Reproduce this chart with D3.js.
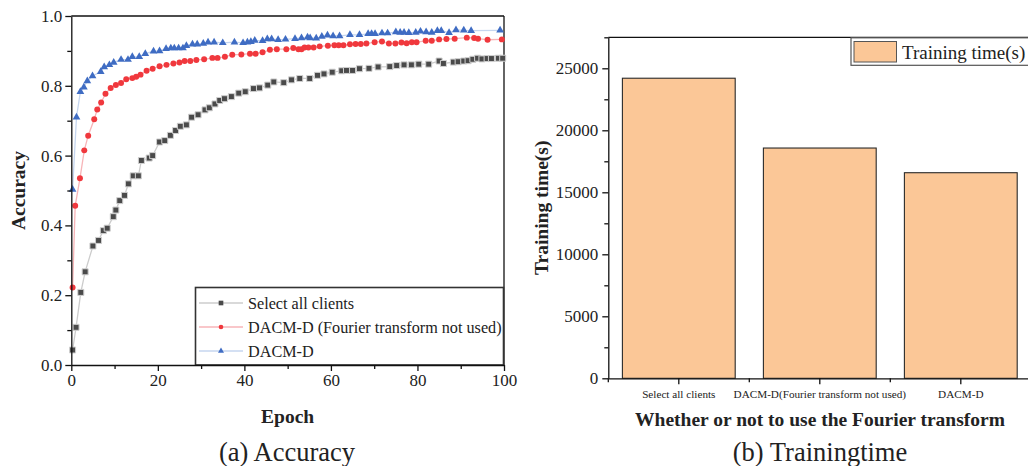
<!DOCTYPE html>
<html>
<head>
<meta charset="utf-8">
<script src="https://cdn.jsdelivr.net/npm/d3@7"></script>
<style>
  body { margin: 0; background: #fff; }
  svg text { font-family: "Liberation Serif", "DejaVu Serif", "Times New Roman", Times, serif !important; fill: #222; }
  .axis path, .axis line { stroke: #111; stroke-width: 1.3; }
</style>
</head>
<body>
<div id="chart"></div>
<script>
// ---- (a) accuracy data: [epoch, accuracy] ----
const selectAll = [
  [0.3,0.043],[1.1,0.108],[2.2,0.208],[3.2,0.267],[5.0,0.341],[6.3,0.357],[7.4,0.385],
  [8.3,0.392],[9.7,0.425],[10.3,0.444],[11.2,0.471],[12.3,0.486],[13.2,0.519],[14.3,0.542],
  [15.5,0.542],[16.2,0.586],[18.0,0.593],[18.8,0.600],[20.4,0.639],[21.6,0.643],[22.9,0.658],
  [24.1,0.672],[25.2,0.684],[26.6,0.688],[27.8,0.710],[29.3,0.717],[30.9,0.731],[31.9,0.737],
  [33.2,0.748],[34.3,0.758],[35.4,0.763],[37.0,0.769],[38.7,0.779],[40.2,0.783],[42.1,0.792],
  [43.5,0.794],[45.4,0.802],[46.8,0.811],[49.1,0.809],[50.9,0.817],[52.8,0.821],[55.1,0.821],
  [56.9,0.830],[58.4,0.834],[60.3,0.839],[62.5,0.843],[63.6,0.844],[65.0,0.844],[66.6,0.849],
  [68.8,0.850],[70.9,0.854],[73.6,0.855],[75.2,0.858],[76.9,0.860],[78.6,0.860],[80.3,0.862],
  [82.6,0.862],[85.0,0.871],[86.0,0.864],[88.3,0.868],[89.4,0.869],[90.7,0.871],[91.7,0.872],
  [92.8,0.876],[93.9,0.879],[94.9,0.877],[96.1,0.878],[97.1,0.878],[98.7,0.879],[99.7,0.879]
];
const noFourier = [
  [0.3,0.222],[0.9,0.456],[2.0,0.535],[3.0,0.615],[3.9,0.657],[5.3,0.704],[6.0,0.732],
  [6.9,0.752],[7.9,0.777],[9.1,0.794],[10.3,0.802],[11.5,0.808],[12.7,0.819],[14.1,0.822],
  [15.0,0.826],[16.0,0.832],[17.4,0.843],[18.8,0.849],[20.4,0.856],[22.0,0.860],[23.6,0.864],
  [25.0,0.867],[26.2,0.871],[27.5,0.871],[28.9,0.874],[30.7,0.876],[32.6,0.880],[33.8,0.880],
  [35.5,0.883],[37.2,0.889],[39.3,0.890],[41.3,0.892],[42.6,0.892],[44.2,0.896],[45.9,0.903],
  [47.5,0.905],[49.7,0.905],[51.3,0.908],[52.5,0.905],[53.2,0.905],[53.9,0.910],[54.8,0.910],
  [56.0,0.910],[57.4,0.913],[59.3,0.915],[60.8,0.916],[61.8,0.916],[62.9,0.916],[64.4,0.919],
  [65.7,0.920],[66.9,0.920],[68.2,0.921],[70.1,0.925],[71.8,0.927],[73.4,0.921],[74.9,0.921],
  [76.3,0.924],[77.5,0.922],[78.7,0.925],[79.8,0.925],[81.9,0.929],[83.3,0.929],[85.0,0.933],
  [86.7,0.934],[88.6,0.935],[91.4,0.938],[93.1,0.937],[94.0,0.935],[96.2,0.932],[99.5,0.933]
];
const dacmD = [
  [0.3,0.503],[1.2,0.710],[2.1,0.783],[2.9,0.796],[3.7,0.814],[4.9,0.828],[6.8,0.840],
  [7.6,0.854],[8.8,0.860],[9.8,0.867],[11.5,0.875],[13.1,0.875],[14.1,0.883],[15.7,0.883],
  [17.1,0.892],[19.0,0.899],[20.4,0.900],[21.9,0.906],[23.0,0.908],[23.8,0.908],[24.8,0.908],
  [25.8,0.908],[26.6,0.915],[28.0,0.919],[29.1,0.919],[30.5,0.921],[31.6,0.925],[33.0,0.925],
  [35.0,0.923],[37.7,0.925],[39.7,0.923],[40.7,0.925],[41.5,0.926],[42.4,0.930],[44.2,0.929],
  [45.3,0.934],[46.3,0.934],[47.8,0.932],[49.5,0.933],[51.7,0.935],[53.2,0.937],[54.6,0.939],
  [55.2,0.937],[56.6,0.936],[57.9,0.941],[59.2,0.945],[60.5,0.943],[62.0,0.943],[64.4,0.946],
  [66.6,0.946],[68.6,0.949],[69.4,0.949],[70.2,0.949],[71.8,0.951],[73.1,0.951],[75.0,0.954],
  [76.0,0.953],[76.9,0.953],[78.0,0.952],[79.6,0.953],[80.7,0.956],[82.0,0.954],[83.3,0.953],
  [84.6,0.958],[85.5,0.958],[87.3,0.952],[88.9,0.960],[90.7,0.959],[92.4,0.958],[99.1,0.959]
];
const seriesNames = ["Select all clients", "DACM-D (Fourier transform not used)", "DACM-D"];

// ---- (b) training time data ----
const methods = ["Select all clients", "DACM-D(Fourier transform not used)", "DACM-D"];
const trainTimes = [24200, 18570, 16580];

const width = 1028;
const height = 466;
const serif = '"Liberation Serif", "DejaVu Serif", "Times New Roman", Times, serif';

const svg = d3.select("#chart").append("svg")
  .attr("width", width).attr("height", height)
  .style("font-family", serif);

// ================= (a) Accuracy =================
const x = d3.scaleLinear().domain([0, 100]).range([71.3, 504]);
const y = d3.scaleLinear().domain([0, 1]).range([365, 16]);

const ga = svg.append("g");

// frame top + right
ga.append("line").attr("x1", x(0)).attr("x2", x(100)).attr("y1", y(1)).attr("y2", y(1))
  .attr("stroke", "#111").attr("stroke-width", 1.3);
ga.append("line").attr("x1", x(100)).attr("x2", x(100)).attr("y1", y(1)).attr("y2", y(0))
  .attr("stroke", "#111").attr("stroke-width", 1.3);

const styles = [
  { data: selectAll, line: "#cccccc", fill: "#4a4a4a", shape: d3.symbolSquare, size: 36 },
  { data: noFourier, line: "#f7b5b8", fill: "#f0383d", shape: d3.symbolCircle, size: 28 },
  { data: dacmD, line: "#c6d6ef", fill: "#3f6cc3", shape: d3.symbolTriangle, size: 26 }
];

const line = d3.line().x((d) => x(d[0])).y((d) => y(d[1]));

styles.forEach((s) => {
  ga.append("path").datum(s.data)
    .attr("fill", "none").attr("stroke", s.line).attr("stroke-width", 1.3)
    .attr("d", line);
  ga.selectAll(null).data(s.data).enter().append("path")
    .attr("transform", (d) => `translate(${x(d[0])},${y(d[1])})`)
    .attr("d", d3.symbol().type(s.shape).size(s.size)())
    .attr("fill", s.fill)
    .attr("stroke", s.shape === d3.symbolSquare ? "#d0d0d0" : "none")
    .attr("stroke-width", 1);
});

// legend
const lg = ga.append("g");
lg.append("rect").attr("x", 195.5).attr("y", 287.5).attr("width", 308).attr("height", 77.5)
  .attr("fill", "#fff").attr("stroke", "#333").attr("stroke-width", 1.6);
styles.forEach((s, i) => {
  const ly = 303 + i * 24;
  lg.append("line").attr("x1", 199).attr("x2", 243).attr("y1", ly).attr("y2", ly)
    .attr("stroke", s.line).attr("stroke-width", 1.3);
  lg.append("path").attr("transform", `translate(221,${ly})`)
    .attr("d", d3.symbol().type(s.shape).size(s.size * 0.6)())
    .attr("fill", s.fill);
  lg.append("text").attr("x", 248).attr("y", ly).attr("dy", "0.35em")
    .style("font-size", "16.2px").text(seriesNames[i]);
});

// axes
const xAxis = ga.append("g").attr("class", "axis")
  .attr("transform", `translate(0,${y(0)})`)
  .call(d3.axisBottom(x).tickValues(d3.range(0, 101, 20)).tickSize(6).tickSizeOuter(0).tickPadding(3));
ga.append("g").attr("class", "axis")
  .attr("transform", `translate(0,${y(0)})`)
  .call(d3.axisBottom(x).tickValues(d3.range(10, 100, 20)).tickSize(4).tickFormat(""))
  .select(".domain").remove();
xAxis.selectAll("text").style("font-size", "17px").attr("fill", "#222");

const yAxis = ga.append("g").attr("class", "axis")
  .attr("transform", `translate(${x(0)},0)`)
  .call(d3.axisLeft(y).tickValues(d3.range(0, 1.01, 0.2)).tickSize(6).tickSizeOuter(0)
    .tickPadding(3).tickFormat(d3.format(".1f")));
ga.append("g").attr("class", "axis")
  .attr("transform", `translate(${x(0)},0)`)
  .call(d3.axisLeft(y).tickValues(d3.range(0.1, 1, 0.2)).tickSize(4).tickFormat(""))
  .select(".domain").remove();
yAxis.selectAll("text").style("font-size", "17px").attr("fill", "#222");

svg.append("text")
  .attr("transform", `translate(25,${(y(0) + y(1)) / 2}) rotate(-90)`)
  .attr("text-anchor", "middle").style("font-size", "19.5px").style("font-weight", "bold")
  .text("Accuracy");
svg.append("text").attr("x", (x(0) + x(100)) / 2).attr("y", 423)
  .attr("text-anchor", "middle").style("font-size", "19.5px").style("font-weight", "bold")
  .text("Epoch");
svg.append("text").attr("x", 287).attr("y", 461)
  .attr("text-anchor", "middle").style("font-size", "26.5px")
  .text("(a) Accuracy");

// ================= (b) Training time =================
const xb = d3.scaleBand().domain(methods).range([608.3, 1031.3]).paddingInner(0.2).paddingOuter(0.1);
const yb = d3.scaleLinear().domain([0, 27500]).range([378.3, 37.3]);

const gb = svg.append("g");

gb.append("line").attr("x1", 608.3).attr("x2", 1031.3).attr("y1", yb(27500)).attr("y2", yb(27500))
  .attr("stroke", "#111").attr("stroke-width", 1.3);

gb.selectAll("rect.bar").data(methods).enter().append("rect")
  .attr("class", "bar")
  .attr("x", (d) => xb(d))
  .attr("y", (d, i) => yb(trainTimes[i]))
  .attr("width", xb.bandwidth())
  .attr("height", (d, i) => yb(0) - yb(trainTimes[i]))
  .attr("fill", "#fbc797").attr("stroke", "#2a2a2a").attr("stroke-width", 1.1);

// legend
gb.append("rect").attr("x", 851).attr("y", 37.8).attr("width", 200).attr("height", 27.5)
  .attr("fill", "#fff").attr("stroke", "#555").attr("stroke-width", 1.2);
gb.append("rect").attr("x", 854).attr("y", 41.5).attr("width", 42.5).attr("height", 20.5)
  .attr("fill", "#fbc797").attr("stroke", "#555").attr("stroke-width", 1);
gb.append("text").attr("x", 902).attr("y", 52).attr("dy", "0.35em")
  .style("font-size", "19px").text("Training time(s)");

const xbAxis = gb.append("g").attr("class", "axis")
  .attr("transform", `translate(0,${yb(0)})`)
  .call(d3.axisBottom(xb).tickSize(6).tickSizeOuter(0).tickPadding(6));
xbAxis.selectAll("text").style("font-size", "11.2px").attr("fill", "#333");
// minor ticks at the band edges
gb.selectAll("line.minor").data(methods).enter().append("line")
  .attr("class", "minor")
  .attr("x1", (d) => xb(d) - xb.step() * xb.paddingInner() / 2)
  .attr("x2", (d) => xb(d) - xb.step() * xb.paddingInner() / 2)
  .attr("y1", yb(0)).attr("y2", yb(0) + 4)
  .attr("stroke", "#111").attr("stroke-width", 1.3);

const ybAxis = gb.append("g").attr("class", "axis")
  .attr("transform", "translate(608.3,0)")
  .call(d3.axisLeft(yb).tickValues(d3.range(0, 25001, 5000)).tickSize(6).tickSizeOuter(0)
    .tickPadding(4).tickFormat(d3.format("d")));
gb.append("g").attr("class", "axis")
  .attr("transform", "translate(608.3,0)")
  .call(d3.axisLeft(yb).tickValues(d3.range(2500, 27501, 5000)).tickSize(4).tickFormat(""))
  .select(".domain").remove();
ybAxis.selectAll("text").style("font-size", "17px").attr("fill", "#222");

svg.append("text")
  .attr("transform", `translate(548,${(yb(0) + yb(27500)) / 2}) rotate(-90)`)
  .attr("text-anchor", "middle").style("font-size", "19.5px").style("font-weight", "bold")
  .text("Training time(s)");
svg.append("text").attr("x", 820).attr("y", 426)
  .attr("text-anchor", "middle").style("font-size", "19.5px").style("font-weight", "bold")
  .text("Whether or not to use the Fourier transform");
svg.append("text").attr("x", 820).attr("y", 461)
  .attr("text-anchor", "middle").style("font-size", "26.5px")
  .text("(b) Trainingtime");

svg.selectAll("text").style("font-family", serif);
</script>
</body>
</html>
